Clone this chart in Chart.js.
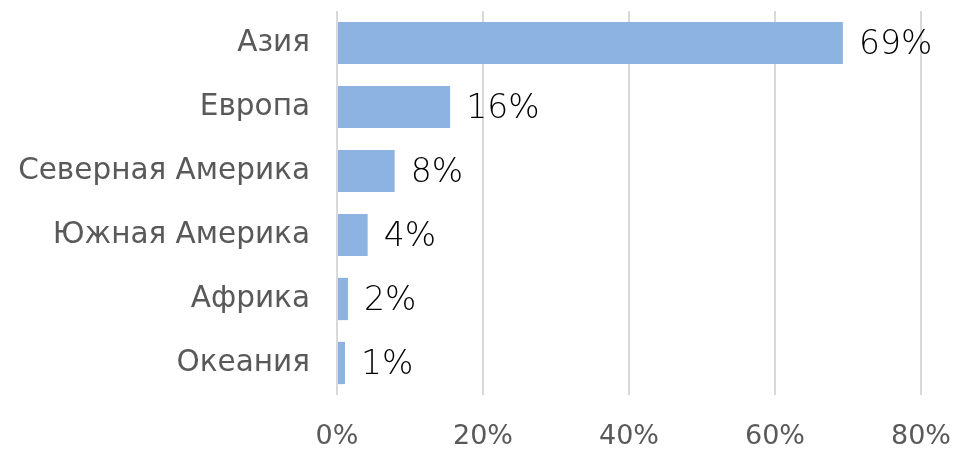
<!DOCTYPE html>
<html lang="ru">
<head>
<meta charset="UTF-8">
<title>Регионы</title>
<script src="https://cdn.jsdelivr.net/npm/chart.js"></script>
<style>
  html, body { margin: 0; padding: 0; background: #fff; }
  #wrap { width: 956px; height: 450px; }
</style>
</head>
<body>
<div id="wrap"><canvas id="regionChart"></canvas></div>
<script>
const regions = ["Азия", "Европа", "Северная Америка", "Южная Америка", "Африка", "Океания"];
const shares = [69.3, 15.5, 7.9, 4.2, 1.5, 1.1];
const xTicks = [0, 20, 40, 60, 80];

const FONT = "'DejaVu Sans', sans-serif";

// draws the "69%" style labels at the end of each bar
const barLabels = {
  id: 'barLabels',
  afterDatasetsDraw(chart) {
    const ctx = chart.ctx;
    const meta = chart.getDatasetMeta(0);
    ctx.save();
    ctx.font = "200 33px " + FONT;
    ctx.fillStyle = '#000';
    ctx.textAlign = 'left';
    ctx.textBaseline = 'middle';
    meta.data.forEach((bar, i) => {
      ctx.fillText(Math.round(shares[i]) + '%', bar.x + 16, bar.y + 2);
    });
    ctx.restore();
  }
};

new Chart(document.getElementById('regionChart'), {
  type: 'bar',
  data: {
    labels: regions,
    datasets: [{
      data: shares,
      backgroundColor: '#8DB3E3',
      barPercentage: 0.66,
      categoryPercentage: 1
    }]
  },
  options: {
    indexAxis: 'y',
    responsive: true,
    maintainAspectRatio: false,
    animation: false,
    layout: { padding: { top: 11, right: 35, left: 0, bottom: 0 } },
    plugins: { legend: { display: false }, tooltip: { enabled: false } },
    scales: {
      x: {
        min: 0,
        max: 80,
        afterBuildTicks(axis) { axis.ticks = xTicks.map(v => ({ value: v })); },
        grid: { color: '#d9d9d9', lineWidth: 2, drawTicks: false },
        border: { display: false },
        ticks: {
          padding: 26,
          color: '#595959',
          font: { family: FONT, size: 27 },
          callback: v => v + '%'
        },
        afterFit(axis) {
          axis.height = 55;
          axis.paddingLeft = 0;
          axis.paddingRight = 0;
        }
      },
      y: {
        grid: { display: false },
        border: { display: false },
        ticks: {
          padding: 19,
          color: '#595959',
          font: { family: FONT, size: 29.5 }
        },
        afterFit(axis) {
          axis.width = 337;
          axis.paddingTop = 0;
          axis.paddingBottom = 0;
        }
      }
    }
  },
  plugins: [barLabels]
});
</script>
</body>
</html>
